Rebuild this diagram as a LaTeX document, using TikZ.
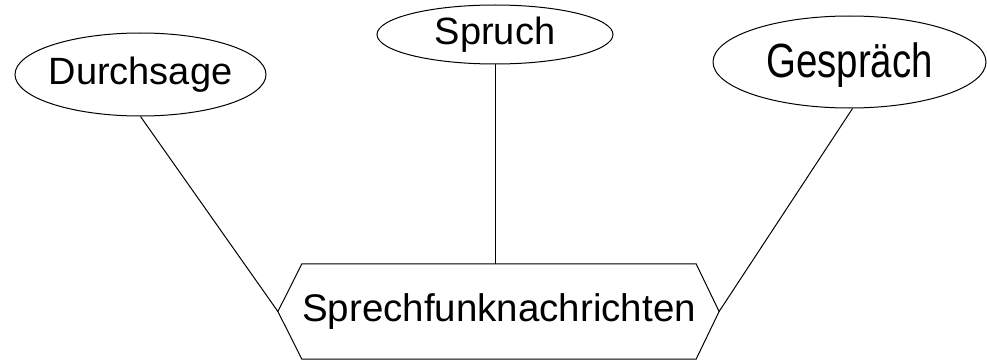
\documentclass[tikz,border=0pt]{standalone}
\usepackage{fontspec}
\usepackage{graphicx}
\setmainfont{Liberation Sans}
\usetikzlibrary{shapes.geometric}
\tikzset{
  term/.style={draw, ellipse, line width=1pt, inner sep=0pt},
  termtext/.style={font=\fontsize{38}{38}\selectfont, inner sep=0pt},
  link/.style={line width=1pt},
}
\begin{document}
\begin{tikzpicture}[x=1pt,y=-1pt]
\useasboundingbox (0,0) rectangle (987,361);
% terms
\node[term, minimum width=251pt, minimum height=83pt,
  label={[termtext]center:Durchsage}] (D) at (140.5,74.5) {};
\node[term, minimum width=236pt, minimum height=59pt,
  label={[termtext]center:Spruch}] (S) at (495,34.5) {};
\node[term, minimum width=273pt, minimum height=92pt,
  label={[inner sep=0pt, yshift=-3pt]center:\scalebox{0.8}[1]{\fontsize{48}{48}\selectfont Gespräch}}] (G) at (849.5,62) {};
% central hexagon
\node[termtext, minimum width=392pt, minimum height=95pt, font=\fontsize{38.5}{38.5}\selectfont] (H) at (499,311.5) {Sprechfunknachrichten};
\coordinate (HL) at ([xshift=-24pt]H.west);
\coordinate (HR) at ([xshift=23pt]H.east);
\draw[link] (H.north west) -- (H.north east) -- (HR) -- (H.south east) -- (H.south west) -- (HL) -- cycle;
% connectors
\draw[link] (D.south) -- (HL);
\draw[link] (S.south) -- (S.south |- H.north);
\draw[link] ([xshift=3pt]G.south) -- (HR);
\end{tikzpicture}
\end{document}
